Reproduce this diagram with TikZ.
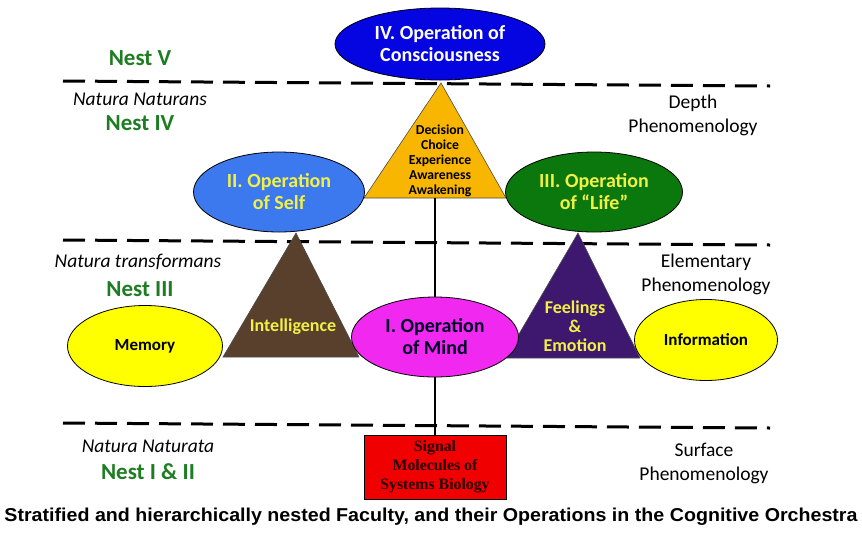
\documentclass[tikz,border=0pt]{standalone}
\usepackage{fontspec}
\setmainfont{Carlito}
\newfontfamily\captionfont{Liberation Sans}
\newfontfamily\boxfont{Liberation Serif}
\usepackage{graphicx}
\usetikzlibrary{shapes.geometric}

\definecolor{consblue}{RGB}{5,5,225}
\definecolor{selfblue}{RGB}{60,120,238}
\definecolor{lifegreen}{RGB}{10,120,12}
\definecolor{decorange}{RGB}{248,182,0}
\definecolor{intbrown}{RGB}{88,64,44}
\definecolor{feelpurple}{RGB}{62,24,110}
\definecolor{mindpink}{RGB}{240,40,240}
\definecolor{facyellow}{RGB}{255,255,0}
\definecolor{opyellow}{RGB}{240,240,70}
\definecolor{sigred}{RGB}{240,0,0}
\definecolor{nestgreen}{RGB}{30,125,35}

\begin{document}
\begin{tikzpicture}[x=1pt,y=-1pt,
  op/.style={ellipse, draw=black, line width=0.8pt, inner sep=0pt, align=center, font=\fontsize{20}{22}\selectfont\bfseries},
  faculty/.style={ellipse, draw=black, line width=0.8pt, fill=facyellow, inner sep=0pt, font=\fontsize{17}{20}\selectfont\bfseries},
  tri/.style={draw=black!70, line width=0.6pt},
  layer/.style={line width=3pt, dash pattern=on 22pt off 10pt},
  stem/.style={line width=2.5pt},
  nest/.style={font=\fontsize{23}{26}\selectfont\bfseries, text=nestgreen},
  natura/.style={font=\fontsize{19.5}{22}\selectfont\itshape},
  pheno/.style={font=\fontsize{19.5}{24}\selectfont, align=center}]
\useasboundingbox[fill=white] (0,0) rectangle (862,547);
% strata
\foreach \y in {81,240,423} {
  \draw[layer] (63,\y) -- (770,\y+5);
}
% faculties as triangles
\filldraw[tri, fill=decorange] (441,83) -- (506,198) -- (364,198) -- cycle;
\filldraw[tri, fill=intbrown] (296,233) -- (359,357) -- (223,357) -- cycle;
\filldraw[tri, fill=feelpurple] (578,233) -- (640,358) -- (505,358) -- cycle;
\coordinate (decbase) at (435,198);
\node[font=\fontsize{13.7}{15}\selectfont\bfseries, align=center] (decision) at (440,161) {Decision\\Choice\\Experience\\Awareness\\Awakening};
\node[font=\fontsize{18}{19}\selectfont\bfseries, text=opyellow] (intelligence) at (293,327) {Intelligence};
\node[font=\fontsize{18}{19}\selectfont\bfseries, text=opyellow, align=center] (feelings) at (575,326) {Feelings\\\&\\Emotion};
% operations
\node[op, fill=consblue, text=white, minimum width=210pt, minimum height=72pt] (consciousness) at (440,44) {IV. Operation of\\Consciousness};
\node[op, fill=selfblue, text=opyellow, minimum width=171pt, minimum height=80pt] (self) at (279,192) {II. Operation\\of Self};
\node[op, fill=lifegreen, text=opyellow, minimum width=177pt, minimum height=80pt] (life) at (594,192) {III. Operation\\of “Life”};
\node[op, fill=mindpink, text=black!85!blue, minimum width=167pt, minimum height=80pt] (mind) at (435,337) {I. Operation\\of Mind};
\node[faculty, minimum width=155pt, minimum height=81pt] (memory) at (145,346) {Memory};
\node[faculty, minimum width=143pt, minimum height=81pt] (information) at (706,340) {Information};
\node[draw=black, line width=0.8pt, fill=sigred, minimum width=142pt, minimum height=64pt, align=center, text=black!85!red, font=\boxfont\fontsize{15.8}{19}\selectfont\bfseries] (signal) at (435,467) {Signal\\Molecules of\\Systems Biology};
\draw[stem] (decbase) -- (mind.north);
\draw[stem] (mind.south) -- (signal.north);
% nests
\node[nest] (nestV) at (140,58) {Nest V};
\node[natura] (naturans) at (140,99) {Natura Naturans};
\node[nest] (nestIV) at (140,123) {Nest IV};
\node[natura] (transformans) at (138,262) {Natura transformans};
\node[nest] (nestIII) at (140,289) {Nest III};
\node[natura] (naturata) at (148,446) {Natura Naturata};
\node[nest] (nestI) at (148,472) {Nest I \& II};
% phenomenology
\node[pheno] (depth) at (693,115) {Depth\\Phenomenology};
\node[pheno] (elementary) at (706,274) {Elementary\\Phenomenology};
\node[pheno] (surface) at (704,463) {Surface\\Phenomenology};
\node[anchor=base, font=\captionfont\bfseries] (caption) at (431,521) {\resizebox{853pt}{13.5pt}{Stratified and hierarchically nested Faculty, and their Operations in the Cognitive Orchestra}};
\end{tikzpicture}
\end{document}
